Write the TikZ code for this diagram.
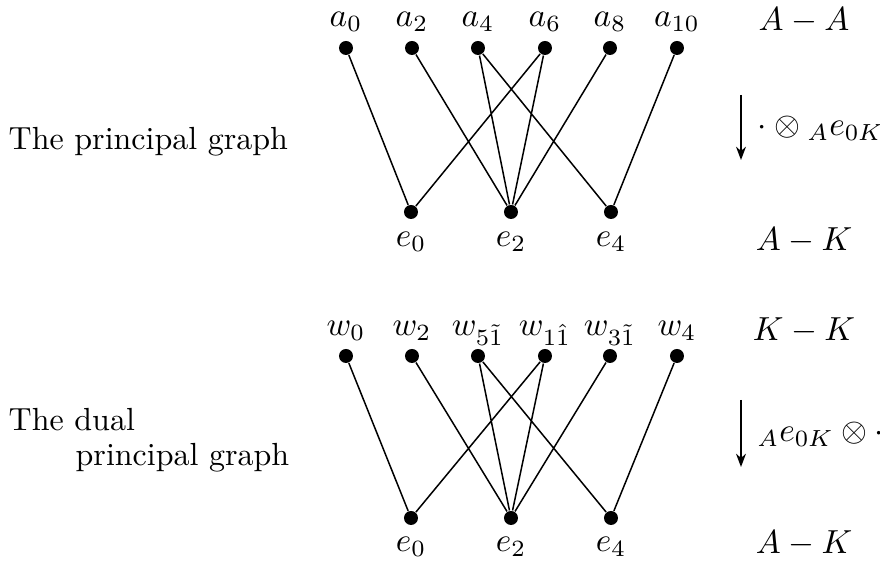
\documentclass[tikz,border=0pt]{standalone}
\usetikzlibrary{arrows.meta}
\begin{document}
\begin{tikzpicture}[x=0.3pt,y=-0.3pt,
  vert/.style={circle,fill=black,inner sep=0pt,minimum size=4.2pt},
  edge/.style={line width=0.45pt},
  lbl/.style={anchor=base,inner sep=0pt,font=\fontsize{9.6}{11.5}\selectfont},
  txt/.style={anchor=base west,inner sep=0pt,font=\fontsize{9.6}{11.5}\selectfont},
  maparrow/.style={line width=0.45pt,-{Stealth[length=4pt,width=3pt]}}]
\useasboundingbox (0,0) rectangle (880,561);
% ---------- principal graph ----------
\foreach \n/\x/\t in {a0/346/a_0,a2/412/a_2,a4/478/a_4,a6/545/a_6,a8/610/a_8,a10/677/a_{10}}{
  \node[vert] (\n) at (\x,48) {};
  \node[lbl] (l\n) at (\x,27) {$\t$};
}
\foreach \n/\x/\t in {e0/411/e_0,e2/511/e_2,e4/611/e_4}{
  \node[vert] (\n) at (\x,212) {};
  \node[lbl] (l\n) at (\x,247) {$\t$};
}
\draw[edge] (a0)--(e0) (a2)--(e2) (a4)--(e2) (a4)--(e4) (a6)--(e0) (a6)--(e2) (a8)--(e2) (a10)--(e4);
\node[txt] (t1) at (8,150) {The principal graph};
\node[lbl] (AA) at (804,31) {$A-A$};
\node[lbl] (AK1) at (804,251) {$A-K$};
\coordinate (r1s) at (741,95);
\coordinate (r1e) at (741,160);
\draw[maparrow] (r1s)--(r1e);
\node[txt] (m1) at (757,136) {$\cdot\otimes{}_{A}e_{0K}$};
% ---------- dual principal graph ----------
\foreach \n/\x/\t in {w0/346/w_0,w2/412/w_2,w5/478/w_{5\tilde{1}},w1/545/w_{1\hat{1}},w3/610/w_{3\tilde{1}},w4/677/w_4}{
  \node[vert] (\n) at (\x,356) {};
  \node[lbl] (l\n) at (\x,336) {$\t$};
}
\foreach \n/\x/\t in {f0/411/e_0,f2/511/e_2,f4/611/e_4}{
  \node[vert] (\n) at (\x,518) {};
  \node[lbl] (l\n) at (\x,552) {$\t$};
}
\draw[edge] (w0)--(f0) (w2)--(f2) (w5)--(f2) (w5)--(f4) (w1)--(f0) (w1)--(f2) (w3)--(f2) (w4)--(f4);
\node[txt] (t2) at (8,431) {The dual};
\node[txt] (t3) at (75,466) {principal graph};
\node[lbl] (KK) at (804,341) {$K-K$};
\node[lbl] (AK2) at (804,554) {$A-K$};
\coordinate (r2s) at (741,400);
\coordinate (r2e) at (741,467);
\draw[maparrow] (r2s)--(r2e);
\node[txt] (m2) at (757,442) {${}_{A}e_{0K}\otimes\cdot$};
\end{tikzpicture}
\end{document}
